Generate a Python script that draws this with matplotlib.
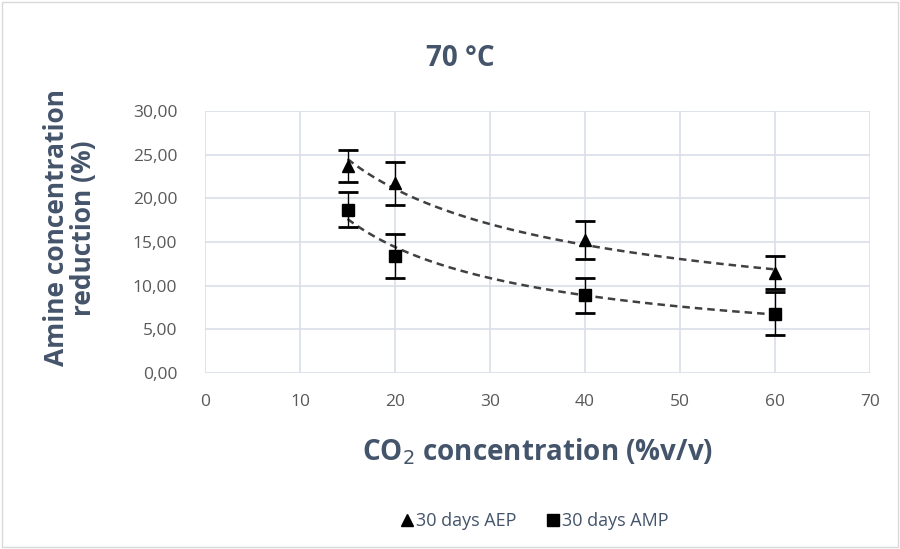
import numpy as np
import matplotlib.pyplot as plt
from matplotlib.patches import Rectangle
from matplotlib.lines import Line2D

plt.rcParams['font.family'] = ['Open Sans', 'DejaVu Sans']

# data
co2 = np.array([15, 20, 40, 60])
aep = np.array([23.7, 21.7, 15.2, 11.5])
aep_err = np.array([1.8, 2.5, 2.2, 1.9])
amp = np.array([18.7, 13.4, 8.9, 6.8])
amp_err = np.array([2.0, 2.5, 2.0, 2.5])

xticks = [0, 10, 20, 30, 40, 50, 60, 70]
yticks = [0, 5, 10, 15, 20, 25, 30]

label_col = '#44546A'
tick_col = '#595959'

fig = plt.figure(figsize=(9, 5.49), dpi=100)
ax = fig.add_axes([205/900, 1-373/549, 665/900, 262/549])

handles = []
for y, err, mk, lab in [(aep, aep_err, '^', '30 days AEP'), (amp, amp_err, 's', '30 days AMP')]:
    ax.errorbar(co2, y, yerr=err, fmt=mk, color='black', ms=9, ecolor='black',
                elinewidth=1, capsize=7, capthick=2, zorder=3)
    # power trendline like excel
    b, a = np.polyfit(np.log(co2), np.log(y), 1)
    xs = np.linspace(co2.min(), co2.max(), 100)
    ax.plot(xs, np.exp(a) * xs ** b, ls=(0, (3, 2)), color='#404040', lw=1.8, zorder=2)
    handles.append(Line2D([], [], marker=mk, ls='none', color='black', ms=8, label=lab))

ax.set_xlim(0, 70)
ax.set_ylim(0, 30)
ax.set_xticks(xticks)
ax.set_yticks(yticks)
ax.set_yticklabels([f'{v:.2f}'.replace('.', ',') for v in yticks])
ax.grid(True, color='#D9DEE8', lw=1.2)
ax.set_axisbelow(True)
for s in ax.spines.values():
    s.set_visible(False)
ax.tick_params(length=0, colors=tick_col, labelsize=12.5)
ax.tick_params(axis='y', pad=20)
ax.tick_params(axis='x', pad=15)

fig.text(460/900, 1-58/549, '70 °C', ha='center', va='center', fontsize=20, fontweight='bold', color=label_col)
fig.text(70/900, 1-228/549, 'Amine concentration\nreduction (%)', ha='center', va='center',
         rotation=90, fontsize=19, fontweight='bold', color=label_col, linespacing=1.0)
fig.text(538/900, 1-452/549, 'CO$_2$ concentration (%v/v)', ha='center', va='center',
         fontsize=20, fontweight='bold', color=label_col)

fig.legend(handles=handles, loc='center', bbox_to_anchor=(533/900, 1-521/549), ncol=2, frameon=False,
           fontsize=13, labelcolor=label_col, handletextpad=0.0, columnspacing=1.5,
           handlelength=1.0)

fig.patches.append(Rectangle((2/900, 2/549), 896/900, 545/549, transform=fig.transFigure,
                             fill=False, ec='#D9D9D9', lw=1))

plt.savefig('out.png', dpi=100)
